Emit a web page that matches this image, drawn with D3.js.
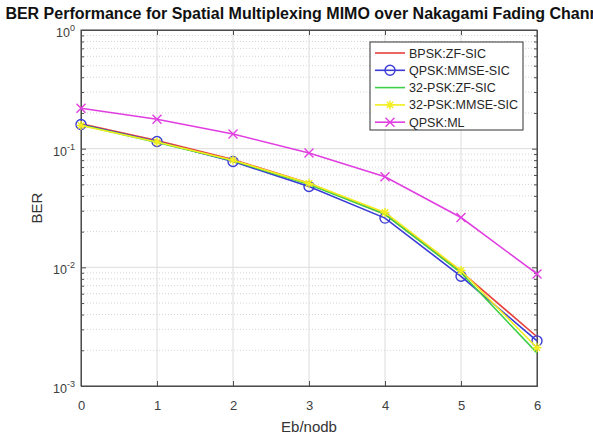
<!DOCTYPE html>
<html>
<head>
<meta charset="utf-8">
<script src="https://cdn.jsdelivr.net/npm/d3@7"></script>
<style>
  body { margin: 0; background: #fff; }
  text { font-family: "Liberation Sans", Arial, sans-serif; }
</style>
</head>
<body>
<div id="chart"></div>
<script>
// data
var snrValues = [0, 1, 2, 3, 4, 5, 6];
var seriesNames = ["BPSK:ZF-SIC", "QPSK:MMSE-SIC", "32-PSK:ZF-SIC", "32-PSK:MMSE-SIC", "QPSK:ML"];
var berBpskZf = [0.162, 0.117, 0.081, 0.051, 0.028, 0.0092, 0.0026];
var berQpskMmse = [0.160, 0.115, 0.078, 0.048, 0.026, 0.0084, 0.0024];
var ber32pskZf = [0.158, 0.113, 0.079, 0.050, 0.028, 0.0090, 0.0019];
var ber32pskMmse = [0.157, 0.114, 0.080, 0.051, 0.029, 0.0094, 0.0021];
var berQpskMl = [0.219, 0.177, 0.133, 0.092, 0.058, 0.0263, 0.0088];
var yDecades = [0, -1, -2, -3];

// styles for each line
var seriesColors = ["#e8413c", "#3b3bd6", "#3fd04a", "#f2ee1e", "#e03ee0"];
var seriesMarkers = ["none", "circle", "none", "star", "cross"];
var seriesData = [berBpskZf, berQpskMmse, ber32pskZf, ber32pskMmse, berQpskMl];

var W = 593, H = 436;
var margin = { top: 30, right: 56, bottom: 50, left: 81 },
    width = W - margin.left - margin.right,
    height = H - margin.top - margin.bottom;

const svg = d3.select("#chart").append("svg")
    .attr("width", W)
    .attr("height", H);

const g = svg.append("g")
    .attr("transform", "translate(" + margin.left + "," + margin.top + ")");

var x = d3.scaleLinear().domain([0, 6]).range([0, width]);
var y = d3.scaleLog().domain([1e-3, 1]).range([height, 0]);

// minor grid (dotted) for the log axis
var minorVals = [];
yDecades.slice(1).forEach(function (e) {
    for (var k = 2; k <= 9; k++) minorVals.push(k * Math.pow(10, e));
});
g.append("g").selectAll("line").data(minorVals).enter().append("line")
    .attr("x1", 0).attr("x2", width)
    .attr("y1", d => y(d)).attr("y2", d => y(d))
    .attr("stroke", "#d4d4d4").attr("stroke-dasharray", "1,2");

// major grid
g.append("g").selectAll("line").data(yDecades.map(e => Math.pow(10, e))).enter().append("line")
    .attr("x1", 0).attr("x2", width)
    .attr("y1", d => y(d)).attr("y2", d => y(d))
    .attr("stroke", "#dcdcdc");
g.append("g").selectAll("line").data(snrValues).enter().append("line")
    .attr("x1", d => x(d)).attr("x2", d => x(d))
    .attr("y1", 0).attr("y2", height)
    .attr("stroke", "#dcdcdc");

// axes, matlab style ticks pointing in
var axisColor = "#4d4d4d";
g.append("g")
    .attr("transform", "translate(0," + height + ")")
    .call(d3.axisBottom(x).tickValues(snrValues).tickSize(-5).tickPadding(15).tickFormat(d3.format("d")));
g.append("g")
    .call(d3.axisTop(x).tickValues(snrValues).tickSize(-5).tickFormat(""));
g.append("g")
    .call(d3.axisLeft(y).tickValues(yDecades.map(e => Math.pow(10, e))).tickSize(-5).tickFormat(""));
g.append("g")
    .attr("transform", "translate(" + width + ",0)")
    .call(d3.axisRight(y).tickValues(yDecades.map(e => Math.pow(10, e))).tickSize(-5).tickFormat(""));
g.append("g")
    .call(d3.axisLeft(y).tickValues(minorVals).tickSize(-3).tickFormat(""));
g.append("g")
    .attr("transform", "translate(" + width + ",0)")
    .call(d3.axisRight(y).tickValues(minorVals).tickSize(-3).tickFormat(""));

g.selectAll(".domain").attr("stroke", axisColor);
g.selectAll(".tick line").attr("stroke", axisColor);
g.selectAll(".tick text").attr("fill", "#404040").style("font-size", "13px")
    .style("font-family", "Liberation Sans, Arial, sans-serif");
g.append("rect").attr("width", width).attr("height", height)
    .attr("fill", "none").attr("stroke", axisColor);

// y tick labels 10^n
var yLab = g.append("g").selectAll("text").data(yDecades).enter().append("text")
    .attr("x", -6)
    .attr("y", d => y(Math.pow(10, d)) + 7)
    .attr("text-anchor", "end")
    .attr("fill", "#404040")
    .style("font-size", "12.5px");
yLab.append("tspan").text("10");
yLab.append("tspan").attr("dy", -6).style("font-size", "9px").text(d => d);

// lines
var line = d3.line().x((d, i) => x(snrValues[i])).y(d => y(d));
seriesData.forEach(function (vals, s) {
    g.append("path")
        .datum(vals)
        .attr("d", line)
        .attr("fill", "none")
        .attr("stroke", seriesColors[s])
        .attr("stroke-width", 1.6);
    drawMarkers(g, vals.map((v, i) => [x(snrValues[i]), y(v)]), seriesMarkers[s], seriesColors[s]);
});

function drawMarkers(parent, pts, kind, color) {
    if (kind == "none") return;
    pts.forEach(function (p) {
        drawMarker(parent, p[0], p[1], kind, color);
    });
}

function drawMarker(parent, cx, cy, kind, color) {
    if (kind == "circle") {
        parent.append("circle").attr("cx", cx).attr("cy", cy).attr("r", 5)
            .attr("fill", "none").attr("stroke", color).attr("stroke-width", 1.4);
    } else if (kind == "cross") {
        var r = 4.5;
        parent.append("path")
            .attr("d", "M" + (cx - r) + "," + (cy - r) + "L" + (cx + r) + "," + (cy + r) +
                "M" + (cx - r) + "," + (cy + r) + "L" + (cx + r) + "," + (cy - r))
            .attr("stroke", color).attr("stroke-width", 1.4);
    } else if (kind == "star") {
        var r2 = 4.5;
        parent.append("path")
            .attr("d", "M" + (cx - r2) + "," + cy + "L" + (cx + r2) + "," + cy +
                "M" + cx + "," + (cy - r2) + "L" + cx + "," + (cy + r2) +
                "M" + (cx - 3.2) + "," + (cy - 3.2) + "L" + (cx + 3.2) + "," + (cy + 3.2) +
                "M" + (cx - 3.2) + "," + (cy + 3.2) + "L" + (cx + 3.2) + "," + (cy - 3.2))
            .attr("stroke", color).attr("stroke-width", 1.4);
    }
}

// legend
var legend = svg.append("g").attr("transform", "translate(370,42)");
legend.append("rect").attr("width", 153).attr("height", 88)
    .attr("fill", "#fff").attr("stroke", "#333").attr("stroke-width", 1);
seriesNames.forEach(function (name, i) {
    var ly = 11 + i * 17.3;
    legend.append("line").attr("x1", 5).attr("x2", 35).attr("y1", ly).attr("y2", ly)
        .attr("stroke", seriesColors[i]).attr("stroke-width", 1.6);
    drawMarker(legend, 20, ly, seriesMarkers[i], seriesColors[i]);
    legend.append("text").attr("x", 39).attr("y", ly + 4.5)
        .attr("fill", "#262626").style("font-size", "12.5px").text(name);
});

// title and axis labels
svg.append("text")
    .attr("x", margin.left + width / 2)
    .attr("y", 19)
    .attr("text-anchor", "middle")
    .attr("fill", "#111")
    .style("font-size", "16px")
    .style("font-weight", "bold")
    .text("BER Performance for Spatial Multiplexing MIMO over Nakagami Fading Channel");

svg.append("text")
    .attr("x", margin.left + width / 2)
    .attr("y", 432)
    .attr("text-anchor", "middle")
    .attr("fill", "#333")
    .style("font-size", "15px")
    .text("Eb/nodb");

svg.append("text")
    .attr("transform", "translate(42," + (margin.top + height / 2) + ") rotate(-90)")
    .attr("text-anchor", "middle")
    .attr("fill", "#333")
    .style("font-size", "15px")
    .text("BER");
</script>
</body>
</html>
